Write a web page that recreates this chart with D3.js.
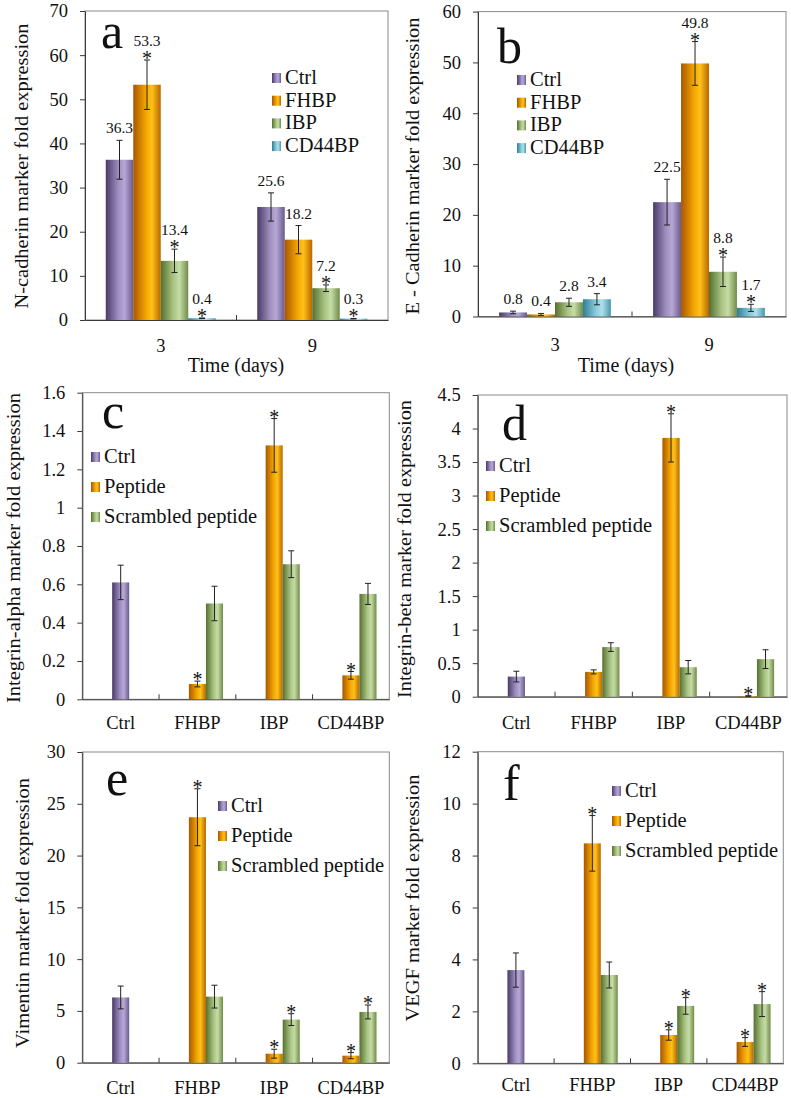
<!DOCTYPE html>
<html><head><meta charset="utf-8">
<script src="https://cdn.jsdelivr.net/npm/d3@7"></script>
<style>
html,body{margin:0;padding:0;background:#fff;}
svg text{font-family:"Liberation Serif","Times New Roman",serif;fill:#111;}
</style></head>
<body><svg id="chart" width="791" height="1098"></svg>
<script>
// ---------- DATA ----------
const dayCats = ["3", "9"];
const cadSeries = ["Ctrl", "FHBP", "IBP", "CD44BP"];
// rows = series (Ctrl, FHBP, IBP, CD44BP), columns = day 3, day 9
const nCadValues = [[36.3, 25.6], [53.3, 18.2], [13.4, 7.2], [0.4, 0.3]];
const nCadErrors = [[4.4, 3.2], [5.6, 3.2], [2.65, 0.75], [0.06, 0.05]];
const nCadStars  = [[false, false], [true, false], [true, true], [true, true]];
const nCadTicks  = [0, 10, 20, 30, 40, 50, 60, 70];

const eCadValues = [[0.8, 22.5], [0.4, 49.8], [2.8, 8.8], [3.4, 1.7]];
const eCadErrors = [[0.25, 4.5], [0.2, 4.3], [0.8, 2.9], [1.1, 0.7]];
const eCadStars  = [[false, false], [false, true], [false, true], [false, true]];
const eCadTicks  = [0, 10, 20, 30, 40, 50, 60];

const peptideCats = ["Ctrl", "FHBP", "IBP", "CD44BP"];
const peptideSeries = ["Ctrl", "Peptide", "Scrambled peptide"];
// rows = series (Ctrl, Peptide, Scrambled peptide), columns = categories
const alphaValues = [[0.61, null, null, null], [null, 0.08, 1.325, 0.125], [null, 0.50, 0.705, 0.55]];
const alphaErrors = [[0.09, 0, 0, 0], [0, 0.015, 0.14, 0.02], [0, 0.09, 0.07, 0.055]];
const alphaStars  = [[false, false, false, false], [false, true, true, true], [false, false, false, false]];
const alphaTicks  = [0, 0.2, 0.4, 0.6, 0.8, 1, 1.2, 1.4, 1.6];

const betaValues = [[0.30, null, null, null], [null, 0.37, 3.86, 0.01], [null, 0.74, 0.44, 0.56]];
const betaErrors = [[0.08, 0, 0, 0], [0, 0.03, 0.36, 0.005], [0, 0.065, 0.1, 0.14]];
const betaStars  = [[false, false, false, false], [false, false, true, true], [false, false, false, false]];
const betaTicks  = [0, 0.5, 1, 1.5, 2, 2.5, 3, 3.5, 4, 4.5];

const vimValues = [[6.3, null, null, null], [null, 23.7, 0.87, 0.68], [null, 6.38, 4.16, 4.9]];
const vimErrors = [[1.1, 0, 0, 0], [0, 2.75, 0.43, 0.3], [0, 1.1, 0.57, 0.67]];
const vimStars  = [[false, false, false, false], [false, true, true, true], [false, false, true, true]];
const vimTicks  = [0, 5, 10, 15, 20, 25, 30];

const vegfValues = [[3.59, null, null, null], [null, 8.47, 1.09, 0.82], [null, 3.40, 2.21, 2.28]];
const vegfErrors = [[0.66, 0, 0, 0], [0, 1.07, 0.2, 0.17], [0, 0.5, 0.32, 0.48]];
const vegfStars  = [[false, false, false, false], [false, true, true, true], [false, false, true, true]];
const vegfTicks  = [0, 2, 4, 6, 8, 10, 12];

// ---------- STYLE ----------
const svg = d3.select("#chart");
const defs = svg.append("defs");
const palettes = {
  purple: ["#4a3a66", "#9d8dc0", "#b6a8d6", "#6a5a8c"],
  orange: ["#a85600", "#f2a400", "#ffc21a", "#b86600"],
  green:  ["#55702f", "#a9c383", "#c6dca6", "#6f8c4a"],
  teal:   ["#2f7e95", "#86c8da", "#ade0ec", "#4a98ad"]
};
Object.entries(palettes).forEach(([k, c]) => {
  const lg = defs.append("linearGradient").attr("id", "g-" + k)
    .attr("x1", "0%").attr("x2", "100%").attr("y1", "0%").attr("y2", "0%");
  [[0, c[0]], [0.45, c[1]], [0.68, c[2]], [1, c[3]]].forEach(([o, col]) =>
    lg.append("stop").attr("offset", o).attr("stop-color", col));
});
const cadColors = ["purple", "orange", "green", "teal"];
const pepColors = ["purple", "orange", "green"];

function fmtTick(v) { return String(+v.toFixed(2)); }

function panel(cfg) {
  const g = svg.append("g");
  const x = d3.scaleBand(cfg.cats, [cfg.x0, cfg.x1]);
  const y = d3.scaleLinear([0, cfg.ymax], [cfg.y1, cfg.y0]);
  const xs = d3.scaleBand(cfg.slots, [0, x.bandwidth()]).paddingInner(0).paddingOuter(cfg.pad);

  // frame
  g.append("rect").attr("x", cfg.x0).attr("y", y(cfg.ymax)).attr("width", cfg.x1 - cfg.x0)
    .attr("height", y(0) - y(cfg.ymax)).attr("fill", "none").attr("stroke", "#8a8a8a").attr("stroke-width", 1);

  // y axis
  const ya = g.append("g").attr("transform", `translate(${cfg.x0},0)`)
    .call(d3.axisLeft(y).tickValues(cfg.ticks).tickFormat(fmtTick).tickSize(5).tickSizeOuter(0).tickPadding(12));
  ya.selectAll("text").style("font-size", "18.5px").attr("fill", "#111");
  ya.selectAll("line,path").attr("stroke", "#3a3a3a");

  // x axis
  const xa = g.append("g").attr("transform", `translate(0,${cfg.y1})`)
    .call(d3.axisBottom(x).tickSize(0).tickSizeOuter(0).tickPadding(cfg.xpad));
  xa.selectAll("text").style("font-size", "18.5px").attr("fill", "#111");
  xa.select("path").attr("stroke", "#3a3a3a");
  // interior boundary ticks
  d3.range(1, cfg.cats.length).forEach(i => {
    const bx = x.range()[0] + i * x.step();
    g.append("line").attr("x1", bx).attr("x2", bx).attr("y1", cfg.y1).attr("y2", cfg.y1 - 5)
      .attr("stroke", "#3a3a3a");
  });

  // bars
  cfg.values.forEach((row, si) => {
    row.forEach((v, ci) => {
      if (v === null) return;
      const bx = x(cfg.cats[ci]) + xs(cfg.slotOf[si]);
      const bw = xs.bandwidth();
      g.append("rect").attr("x", bx).attr("y", y(v)).attr("width", bw).attr("height", y(0) - y(v))
        .attr("fill", `url(#g-${cfg.colors[si]})`);
      const e = cfg.errors[si][ci];
      const cx = bx + bw / 2;
      const top = y(v + e);
      g.append("line").attr("x1", cx).attr("x2", cx).attr("y1", top).attr("y2", y(Math.max(0, v - e)))
        .attr("stroke", "#222").attr("stroke-width", 1);
      [v + e, Math.max(0, v - e)].forEach(t => {
        g.append("line").attr("x1", cx - 3).attr("x2", cx + 3).attr("y1", y(t)).attr("y2", y(t))
          .attr("stroke", "#222").attr("stroke-width", 1);
      });
      const star = cfg.stars[si][ci];
      if (star) {
        g.append("text").attr("x", cx).attr("y", top + 5).attr("text-anchor", "middle")
          .style("font-size", "20px").text("*");
      }
      if (cfg.labels) {
        g.append("text").attr("x", cx).attr("y", star ? top - 14 : top - 7).attr("text-anchor", "middle")
          .style("font-size", "15.5px").text(d3.format(".1f")(v));
      }
    });
  });

  // legend
  cfg.series.forEach((s, i) => {
    const by = cfg.leg[1] + i * cfg.leg[2];
    g.append("rect").attr("x", cfg.leg[0]).attr("y", by - 11).attr("width", 9).attr("height", 10)
      .attr("fill", `url(#g-${cfg.colors[i]})`);
    g.append("text").attr("x", cfg.leg[0] + 13).attr("y", by).style("font-size", "20.5px").text(s);
  });

  // panel letter
  g.append("text").attr("x", cfg.letter[0]).attr("y", cfg.letter[1]).style("font-size", "50px").text(cfg.name);

  // y title
  g.append("text").attr("transform", `translate(${cfg.ytitle[0]},${cfg.ytitle[1]}) rotate(-90)`)
    .attr("text-anchor", "middle").style("font-size", "19.5px")
    .attr("textLength", cfg.ytitle[2]).attr("lengthAdjust", "spacingAndGlyphs").text(cfg.ylabel);

  // x title
  if (cfg.xtitle) {
    g.append("text").attr("x", cfg.xtitle[0]).attr("y", cfg.xtitle[1]).attr("text-anchor", "middle")
      .style("font-size", "20px").text("Time (days)");
  }
}

const cadSlots = ["s0", "s1", "s2", "s3"];
const pepSlots = ["s0", "s1", "s2"];

panel({name: "a", cats: dayCats, series: cadSeries, values: nCadValues, errors: nCadErrors, stars: nCadStars,
  ticks: nCadTicks, ymax: 70, x0: 85, x1: 388, y0: 11, y1: 320, slots: cadSlots, slotOf: cadSlots, pad: 0.755,
  colors: cadColors, labels: true, xpad: 19, leg: [272, 84, 22.7], letter: [101, 48],
  ylabel: "N-cadherin marker fold expression", ytitle: [28, 166, 285], xtitle: [236, 372]});

panel({name: "b", cats: dayCats, series: cadSeries, values: eCadValues, errors: eCadErrors, stars: eCadStars,
  ticks: eCadTicks, ymax: 60, x0: 478, x1: 786, y0: 11.6, y1: 316.5, slots: cadSlots, slotOf: cadSlots, pad: 0.755,
  colors: cadColors, labels: true, xpad: 21, leg: [517, 86, 22.7], letter: [497, 63],
  ylabel: "E - Cadherin marker fold expression", ytitle: [419, 166, 297], xtitle: [626, 372]});

const pepSlotOf = ["s1", "s1", "s2"];
panel({name: "c", cats: peptideCats, series: peptideSeries, values: alphaValues, errors: alphaErrors, stars: alphaStars,
  ticks: alphaTicks, ymax: 1.6, x0: 82.3, x1: 389.3, y0: 392.7, y1: 699.3, slots: pepSlots, slotOf: pepSlotOf, pad: 0.75,
  colors: pepColors, labels: false, xpad: 17, leg: [91, 463, 30], letter: [102, 428],
  ylabel: "Integrin-alpha marker fold expression", ytitle: [20, 548, 310]});

panel({name: "d", cats: peptideCats, series: peptideSeries, values: betaValues, errors: betaErrors, stars: betaStars,
  ticks: betaTicks, ymax: 4.5, x0: 477.7, x1: 787, y0: 395, y1: 696.7, slots: pepSlots, slotOf: pepSlotOf, pad: 0.75,
  colors: pepColors, labels: false, xpad: 19, leg: [486, 472, 30], letter: [502, 440],
  ylabel: "Integrin-beta marker fold expression", ytitle: [411, 549, 298]});

panel({name: "e", cats: peptideCats, series: peptideSeries, values: vimValues, errors: vimErrors, stars: vimStars,
  ticks: vimTicks, ymax: 30, x0: 82.3, x1: 389.3, y0: 752, y1: 1062.7, slots: pepSlots, slotOf: pepSlotOf, pad: 0.75,
  colors: pepColors, labels: false, xpad: 18, leg: [218, 812, 30], letter: [106, 795],
  ylabel: "Vimentin marker fold expression", ytitle: [29, 913, 270]});

panel({name: "f", cats: peptideCats, series: peptideSeries, values: vegfValues, errors: vegfErrors, stars: vegfStars,
  ticks: vegfTicks, ymax: 12, x0: 477.7, x1: 783.3, y0: 751.7, y1: 1063.3, slots: pepSlots, slotOf: pepSlotOf, pad: 0.75,
  colors: pepColors, labels: false, xpad: 15, leg: [612, 797, 30], letter: [503, 800],
  ylabel: "VEGF marker fold expression", ytitle: [419, 898, 247]});
</script></body></html>
